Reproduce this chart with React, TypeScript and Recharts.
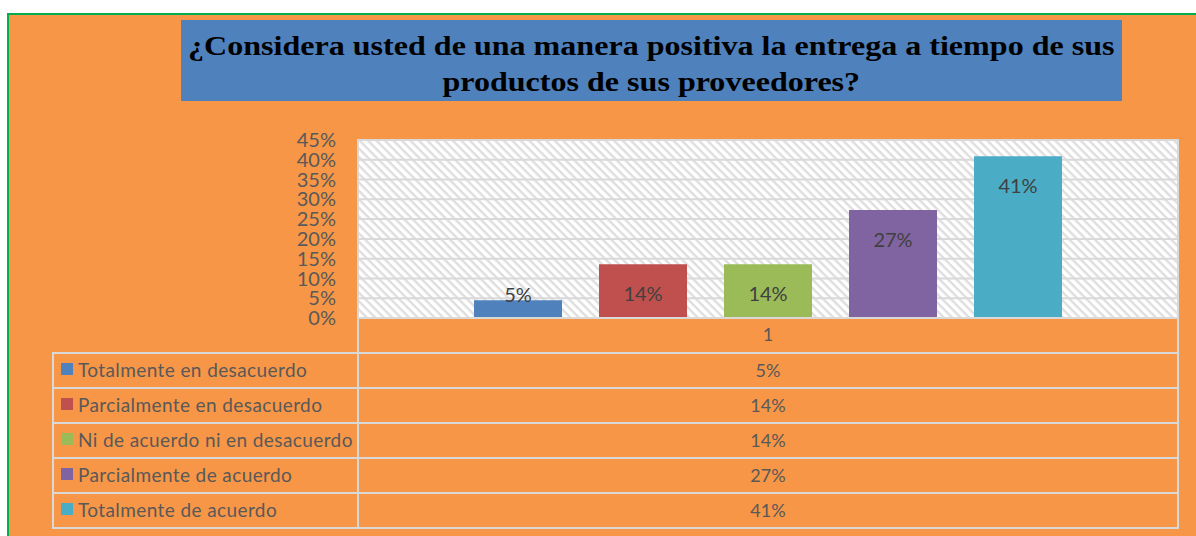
import { BarChart, Bar, XAxis, YAxis, CartesianGrid, LabelList } from 'recharts'

const CATEGORIES = ['1']
const SERIES_NAMES = [
    'Totalmente en desacuerdo',
    'Parcialmente en desacuerdo',
    'Ni de acuerdo ni en desacuerdo',
    'Parcialmente de acuerdo',
    'Totalmente de acuerdo'
]
const SERIES_VALUES = [0.045, 0.136, 0.136, 0.273, 0.409]
const SERIES_LABELS = ['5%', '14%', '14%', '27%', '41%']
const Y_TICKS = [0, 0.05, 0.1, 0.15, 0.2, 0.25, 0.3, 0.35, 0.4, 0.45]

const COLORS = [
    '#4f81bd', // blue
    '#c0504d', // red
    '#9bbb59', // green
    '#8064a2', // purple
    '#4bacc6'  // aqua
]

const TITLE_1 = '¿Considera usted de una manera positiva la entrega a tiempo de sus'
const TITLE_2 = 'productos de sus proveedores?'

const FONT = 'Lato, "Open Sans", sans-serif'
const GRID = '#d9d9d9'

const data = CATEGORIES.map((name) => {
    const row: Record<string, string | number> = { name }
    SERIES_VALUES.forEach((v, i) => { row[`s${i}`] = v })
    return row
})

const pct = (v: number) => `${Math.round(v * 100)}%`

function makeLabel(text: string) {
    return (props: any) => {
        const { x, y, width, height } = props
        const cy = height > 40 ? y + 29 : y - 6
        return (
            <text x={x + width / 2} y={cy} textAnchor="middle" dominantBaseline="central"
                fill="#404040" fontSize={20} fontFamily={FONT}>
                {text}
            </text>
        )
    }
}

export default function App() {
    return (
        <div style={{ position: 'absolute', left: 0, top: 0, width: 1196, height: 536, background: '#fff', overflow: 'hidden' }}>
            <div style={{
                position: 'absolute', left: 7, top: 13, width: 1200, height: 600,
                background: '#f79646', borderTop: '2px solid #00b050', borderLeft: '2px solid #00b050'
            }} />

            <div style={{ position: 'absolute', left: 0, top: 0 }}>
                <BarChart width={1196} height={536} data={data}
                    margin={{ top: 140, right: 18, bottom: 183, left: 0 }}
                    barSize={88} barGap={37} barCategoryGap={116}>
                    <defs>
                        <pattern id="hatch" width="6" height="6" patternUnits="userSpaceOnUse" patternTransform="rotate(45)">
                            <rect width="6" height="6" fill="#ffffff" />
                            <rect width="6" height="2.4" fill="#dedede" />
                        </pattern>
                    </defs>
                    <CartesianGrid vertical={false} fill="url(#hatch)" fillOpacity={1} stroke={GRID} strokeWidth={2} />
                    <XAxis dataKey="name" height={35} tickLine={false}
                        axisLine={{ stroke: GRID, strokeWidth: 2 }}
                        tick={{ fill: '#595959', fontSize: 18, fontFamily: FONT }} tickMargin={4} />
                    <YAxis width={358} domain={[0, 0.45]} ticks={Y_TICKS} interval={0}
                        tickFormatter={pct} tickLine={false} axisLine={false} tickMargin={16}
                        tick={{ fill: '#595959', fontSize: 20, fontFamily: FONT }} />
                    {SERIES_NAMES.map((n, i) => (
                        <Bar key={n} dataKey={`s${i}`} name={n} fill={COLORS[i]} isAnimationActive={false}>
                            <LabelList dataKey={`s${i}`} content={makeLabel(SERIES_LABELS[i])} />
                        </Bar>
                    ))}
                </BarChart>
            </div>

            {/* plot frame + data table */}
            <div style={{ position: 'absolute', left: 357, top: 139, width: 2, height: 390, background: GRID }} />
            <div style={{ position: 'absolute', left: 1177, top: 139, width: 2, height: 390, background: GRID }} />
            <div style={{ position: 'absolute', left: 52, top: 352, width: 2, height: 177, background: GRID }} />
            {SERIES_NAMES.map((n, i) => (
                <div key={n}>
                    <div style={{ position: 'absolute', left: 52, top: 352 + i * 35, width: 1127, height: 2, background: GRID }} />
                    <div style={{
                        position: 'absolute', left: 61, top: 354 + i * 35 + 9, width: 12, height: 12, background: COLORS[i]
                    }} />
                    <div style={{
                        position: 'absolute', left: 78, top: 353 + i * 35, height: 33, lineHeight: '33px',
                        fontFamily: FONT, fontSize: 19, letterSpacing: 0.4, color: '#595959', whiteSpace: 'nowrap'
                    }}>{n}</div>
                    <div style={{
                        position: 'absolute', left: 359, width: 818, top: 354 + i * 35, height: 33, lineHeight: '33px',
                        textAlign: 'center', fontFamily: FONT, fontSize: 18, color: '#595959'
                    }}>{SERIES_LABELS[i]}</div>
                </div>
            ))}
            <div style={{ position: 'absolute', left: 52, top: 527, width: 1127, height: 2, background: GRID }} />

            <div style={{
                position: 'absolute', left: 181, top: 20, width: 941, height: 81, background: '#4f81bd',
                fontFamily: '"Liberation Serif", "Times New Roman", serif', fontWeight: 'bold', fontSize: 28,
                lineHeight: '36px', textAlign: 'center', color: '#000', paddingTop: 8, boxSizing: 'border-box'
            }}>
                <div style={{ transform: 'scaleX(1.145)', transformOrigin: '472px 0', whiteSpace: 'nowrap' }}>{TITLE_1}</div>
                <div style={{ transform: 'scaleX(1.145)', transformOrigin: '472px 0', whiteSpace: 'nowrap' }}>{TITLE_2}</div>
            </div>
        </div>
    )
}
